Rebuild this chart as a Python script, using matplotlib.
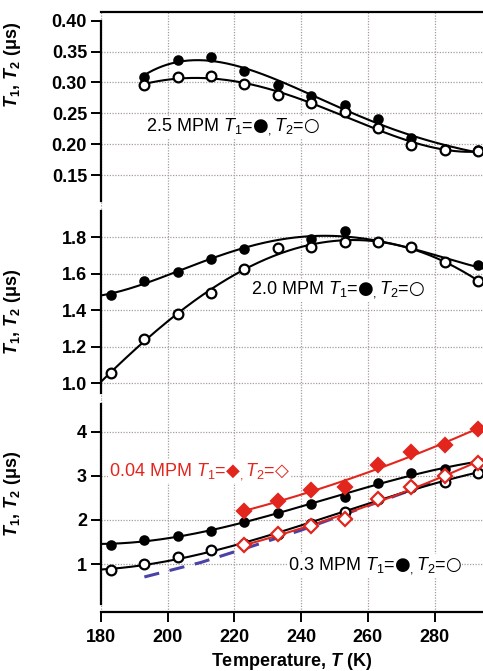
import matplotlib.pyplot as plt
import numpy as np

plt.rcParams['font.family'] = ['Liberation Sans', 'DejaVu Sans']
plt.rcParams['font.weight'] = 'bold'
plt.rcParams['mathtext.fontset'] = 'custom'
plt.rcParams['mathtext.rm'] = 'Liberation Sans:normal'
plt.rcParams['mathtext.it'] = 'Liberation Sans:italic:normal'
plt.rcParams['mathtext.bf'] = 'Liberation Sans:bold'
plt.rcParams['mathtext.bfit'] = 'Liberation Sans:italic:bold'
plt.rcParams['mathtext.sf'] = 'DejaVu Sans:normal'

RED = '#e2261d'
BLUE = '#4a42a6'
GRID = '#a89c9a'

# 2.5 MPM
temp_25 = [193, 203, 213, 223, 233, 243, 253, 263, 273, 283, 293]
t1_25 = [0.309, 0.337, 0.341, 0.318, 0.296, 0.278, 0.264, 0.240, 0.210, 0.192, 0.190]
t2_25 = [0.296, 0.308, 0.310, 0.297, 0.279, 0.266, 0.252, 0.226, 0.198, 0.191, 0.189]

# 2.0 MPM
temp_20_t1 = [183, 193, 203, 213, 223, 243, 253, 263, 273, 283, 293]
t1_20 = [1.484, 1.562, 1.612, 1.681, 1.734, 1.791, 1.835, 1.773, 1.749, 1.663, 1.647]
temp_20_t2 = [183, 193, 203, 213, 223, 233, 243, 253, 263, 273, 283, 293]
t2_20 = [1.058, 1.243, 1.380, 1.496, 1.626, 1.740, 1.745, 1.773, 1.773, 1.749, 1.663, 1.562]

# 0.3 MPM
temp_03 = [183, 193, 203, 213, 223, 233, 243, 253, 263, 273, 283, 293]
t1_03 = [1.437, 1.55, 1.645, 1.74, 1.95, 2.167, 2.37, 2.53, 2.84, 3.065, 3.15, 3.32]
t2_03 = [0.86, 1.0, 1.165, 1.315, 1.45, 1.69, 1.90, 2.19, 2.47, 2.74, 2.86, 3.065]

# 0.04 MPM
temp_004 = [223, 233, 243, 253, 263, 273, 283, 293]
t1_004 = [2.21, 2.44, 2.67, 2.74, 3.235, 3.53, 3.70, 4.07]
t2_004 = [1.43, 1.69, 1.87, 2.02, 2.47, 2.75, 3.0, 3.3]

# calculated T2 (dashed)
temp_calc = [193, 210, 225, 240, 257, 280]
t2_calc = [0.71, 1.04, 1.40, 1.77, 2.24, 2.87]

x_ticks = [180, 200, 220, 240, 260, 280]
x_lim = (180, 294.5)


def fit_curve(x, y, deg, x0, x1):
    coef = np.polyfit(x, y, deg)
    xs = np.linspace(x0, x1, 300)
    return xs, np.polyval(coef, xs)


def series(ax, x, y, marker, color, fill, deg, x0, x1, ms):
    xs, ys = fit_curve(x, y, deg, x0, x1)
    ax.plot(xs, ys, '-', color=color, lw=1.5, zorder=3)
    ax.plot(x, y, linestyle='none', marker=marker, ms=ms, mfc=fill, mec=color,
            mew=1.6, zorder=4)


def note(ax, x, y, text, color='black'):
    ax.text(x, y, text, color=color, fontsize=13, fontweight='normal', ha='left',
            va='center', zorder=5,
            bbox=dict(facecolor='white', edgecolor='none', pad=0.5))


def key(t1_sym, t2_sym):
    return (r'$T_1$=$\mathsf{' + t1_sym + r'}$$_,$$T_2$=$\mathsf{' + t2_sym + r'}$')


fig = plt.figure(figsize=(4.83, 6.71), dpi=100)
left, width = 0.2091, 0.7909
ax_top = fig.add_axes([left, 0.6930, width, 0.2891])
ax_mid = fig.add_axes([left, 0.4061, width, 0.2869])
ax_bot = fig.add_axes([left, 0.0879, width, 0.3182])

ylims = [(0.0998, 0.4141), (0.9167, 1.9715), (-0.0838, 4.751)]
spine_bounds = [(0.1084, 0.40), (0.9485, 1.9458), (0.1014, 4.627)]
yticks = [[0.15, 0.20, 0.25, 0.30, 0.35, 0.40], [1.0, 1.2, 1.4, 1.6, 1.8], [1, 2, 3, 4]]
yfmt = ['{:.2f}', '{:.1f}', '{:d}']
label_y = [0.727, 0.452, 0.553]

for ax, lim, bnd, tk, fmt, ly in zip([ax_top, ax_mid, ax_bot], ylims, spine_bounds,
                                     yticks, yfmt, label_y):
    ax.set_xlim(*x_lim)
    ax.set_ylim(*lim)
    ax.set_xticks(x_ticks)
    ax.set_yticks(tk)
    ax.set_yticklabels([fmt.format(v) for v in tk])
    ax.spines['right'].set_visible(False)
    ax.spines['top'].set_visible(False)
    ax.spines['bottom'].set_visible(False)
    ax.spines['left'].set_bounds(*bnd)
    ax.spines['left'].set_linewidth(1.6)
    ax.tick_params(axis='y', direction='out', length=7, width=1.4, labelsize=13, pad=3)
    ax.tick_params(axis='x', bottom=False, labelbottom=False)
    ax.grid(True, color=GRID, linestyle=(0, (1, 1.2)), linewidth=0.9)
    ax.set_axisbelow(True)
    ax.set_ylabel(r'$\mathbfit{T}_\mathbf{1}$, $\mathbfit{T}_\mathbf{2}$ (μs)', fontsize=13,
                  fontweight='bold')
    ax.yaxis.set_label_coords(-0.203, ly)

ax_top.spines['top'].set_visible(True)
ax_top.spines['top'].set_linewidth(1.6)
ax_top.get_ygridlines()[-1].set_visible(False)

ax_bot.spines['bottom'].set_visible(True)
ax_bot.spines['bottom'].set_linewidth(1.6)
ax_bot.tick_params(axis='x', bottom=True, labelbottom=True, direction='out', length=7,
                   width=1.4, labelsize=13, pad=5)
ax_bot.set_xlabel(r'Temperature, $\mathbfit{T}$ (K)', fontsize=13, fontweight='bold',
                  labelpad=4)

# 2.5 MPM
series(ax_top, temp_25, t1_25, 'o', 'black', 'black', 4, 193, 293, 6)
series(ax_top, temp_25, t2_25, 'o', 'black', 'white', 4, 193, 293, 7)
note(ax_top, 193.5, 0.228, '2.5 MPM ' + key('●', '○'))

# 2.0 MPM
series(ax_mid, temp_20_t1, t1_20, 'o', 'black', 'black', 4, 180, 294.5, 6)
series(ax_mid, temp_20_t2, t2_20, 'o', 'black', 'white', 4, 180, 294.5, 7)
note(ax_mid, 225, 1.511, '2.0 MPM ' + key('●', '○'))

# 0.3 MPM and 0.04 MPM
ax_bot.plot(temp_calc, t2_calc, color=BLUE, lw=2.2, linestyle=(0, (5, 3.5)), zorder=3)
series(ax_bot, temp_03, t1_03, 'o', 'black', 'black', 3, 180, 294.5, 6)
series(ax_bot, temp_03, t2_03, 'o', 'black', 'white', 3, 180, 294.5, 7)
series(ax_bot, temp_004, t1_004, 'D', RED, RED, 2, 223, 294.5, 7)
series(ax_bot, temp_004, t2_004, 'D', RED, 'white', 2, 223, 294.5, 7)
note(ax_bot, 182.3, 3.095, '0.04 MPM ' + key('◆', '◇'), color=RED)
note(ax_bot, 236, 0.968, '0.3 MPM ' + key('●', '○'))

fig.savefig('out.png', dpi=100)
